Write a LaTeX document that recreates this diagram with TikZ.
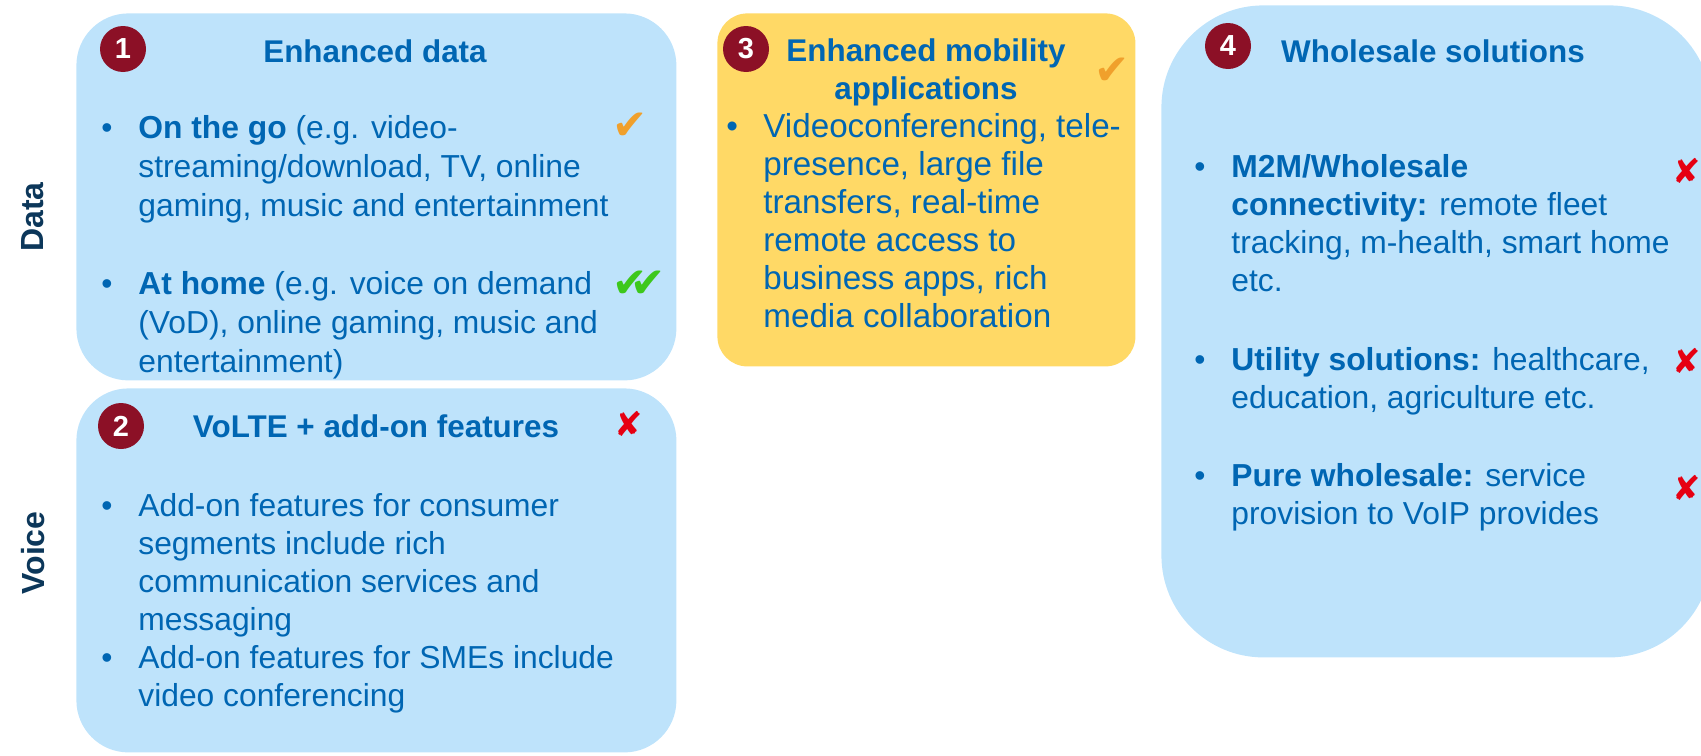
\documentclass[tikz,border=0pt]{standalone}
\usepackage{fontspec}
\setmainfont{Liberation Sans}
\newfontfamily\symfont{DejaVu Sans}
\usepackage{tikz}
\definecolor{panelblue}{RGB}{190,227,251}
\definecolor{panelgold}{RGB}{255,217,102}
\definecolor{badgered}{RGB}{140,16,38}
\definecolor{textblue}{RGB}{0,102,179}
\definecolor{labelnavy}{RGB}{12,55,90}
\definecolor{tickorange}{RGB}{240,160,44}
\definecolor{tickgreen}{RGB}{61,200,28}
\definecolor{crossred}{RGB}{230,0,18}
\newcommand{\bitem}[1]{\begin{tabular}[t]{@{}p{18.5pt}@{}l@{}}\textbullet & #1\end{tabular}}

\begin{document}
\begin{tikzpicture}[x=0.5pt, y=-0.5pt,
  panel/.style={anchor=north west, inner sep=0pt, rounded corners=26pt},
  bluepanel/.style={panel, fill=panelblue},
  goldpanel/.style={panel, fill=panelgold, rounded corners=15pt},
  badge/.style={circle, fill=badgered, text=white, minimum size=23pt,
                inner sep=0pt, font=\fontsize{14.5}{16}\selectfont\bfseries},
  title/.style={anchor=base, inner sep=0pt, text=textblue,
                font=\fontsize{15.7}{19}\selectfont\bfseries},
  itemtext/.style={anchor=base west, inner sep=0pt, text=textblue,
                   font=\fontsize{15.9}{19}\selectfont},
  tick/.style={inner sep=0pt, font=\symfont\fontsize{21}{21}\selectfont},
  cross/.style={inner sep=0pt, text=crossred, font=\symfont\fontsize{17}{17}\selectfont},
  sidelabel/.style={rotate=90, inner sep=0pt, text=labelnavy,
                    font=\fontsize{16}{18}\selectfont\bfseries},
]
\useasboundingbox (0,0) rectangle (1701,755);

% Panels
\node[bluepanel, minimum width=300pt, minimum height=183.5pt] (enhdata) at (76,13) {};
\node[bluepanel, minimum width=300pt, minimum height=182pt] (volte) at (76,388) {};
\node[goldpanel, minimum width=209pt, minimum height=176.5pt] (mobility) at (717,13) {};
\node[bluepanel, rounded corners=51pt, minimum width=275pt, minimum height=326pt] (wholesale) at (1161,5) {};

% Row labels
\node[sidelabel] (datalbl) at (33,217) {Data};
\node[sidelabel] (voicelbl) at (33,553) {Voice};

% Badges
\node[badge] (badge1) at (123,49) {1};
\node[badge] (badge2) at (121,426) {2};
\node[badge] (badge3) at (746,49) {3};
\node[badge] (badge4) at (1228,46) {4};

% Titles
\node[title] (title1) at (375,62) {Enhanced data};
\node[title] (title2) at (376,437) {VoLTE + add-on features};
\node[title] (title3) at (926,61) {\begin{tabular}[t]{@{}c@{}}Enhanced mobility\\applications\end{tabular}};
\node[title] (title4) at (1433,62) {Wholesale solutions};

% Enhanced data
\node[itemtext, font=\fontsize{15.9}{19.6}\selectfont] (onthego) at (101,138) {\bitem{\textbf{On the go} (e.g. video-\\
  & streaming/download, TV, online\\ & gaming, music and entertainment}};
\node[itemtext, font=\fontsize{15.9}{19.6}\selectfont] (athome) at (101,294) {\bitem{\textbf{At home} (e.g. voice on demand\\
  & (VoD), online gaming, music and\\ & entertainment)}};

% VoLTE
\node[itemtext] (consumer) at (101,516) {\bitem{Add-on features for consumer\\
  & segments include rich\\ & communication services and\\ & messaging}};
\node[itemtext] (smes) at (101,668) {\bitem{Add-on features for SMEs include\\
  & video conferencing}};

% Enhanced mobility
\node[itemtext, font=\fontsize{16.6}{19}\selectfont] (apps) at (726,137) {\bitem{Videoconferencing, tele-\\ & presence, large file\\
  & transfers, real-time\\ & remote access to\\ & business apps, rich\\ & media collaboration}};

% Wholesale
\node[itemtext] (m2m) at (1194,177) {\bitem{\textbf{M2M/Wholesale}\\
  & \textbf{connectivity:} remote fleet\\ & tracking, m-health, smart home\\ & etc.}};
\node[itemtext] (utility) at (1194,370) {\bitem{\textbf{Utility solutions:} healthcare,\\
  & education, agriculture etc.}};
\node[itemtext] (pure) at (1194,486) {\bitem{\textbf{Pure wholesale:} service\\
  & provision to VoIP provides}};

% Ticks and crosses
\node[tick, text=tickorange] (tick1) at (630,126) {✔};
\node[tick, text=tickgreen] (tick2) at (639,284) {✔\kern-8.5pt✔};
\node[tick, text=tickorange] (tick3) at (1112,71) {✔};
\node[cross] (cross2) at (629,424) {✘};
\node[cross] (cross4a) at (1687,171) {✘};
\node[cross] (cross4b) at (1687,361) {✘};
\node[cross] (cross4c) at (1687,488) {✘};

\end{tikzpicture}
\end{document}
